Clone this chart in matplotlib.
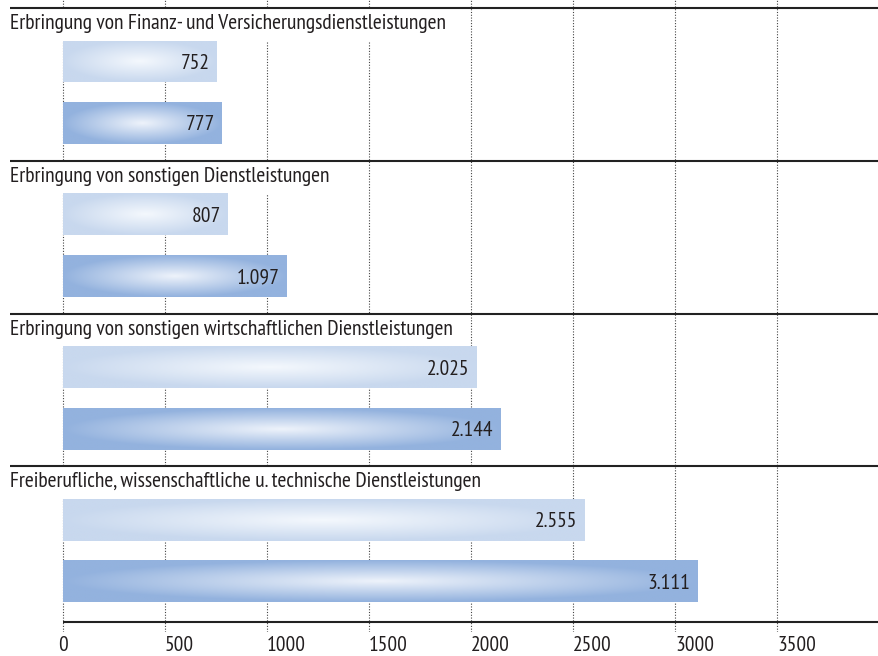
import numpy as np
import matplotlib.pyplot as plt
from matplotlib.patches import Rectangle

# data
categories = [
    "Erbringung von Finanz- und Versicherungsdienstleistungen",
    "Erbringung von sonstigen Dienstleistungen",
    "Erbringung von sonstigen wirtschaftlichen Dienstleistungen",
    "Freiberufliche, wissenschaftliche u. technische Dienstleistungen",
]
values_light = [752, 807, 2025, 2555]
values_dark = [777, 1097, 2144, 3111]
tick_values = [0, 500, 1000, 1500, 2000, 2500, 3000, 3500]

plt.rcParams['font.family'] = ['PT Sans Narrow', 'DejaVu Sans']
plt.rcParams['font.weight'] = 'normal'
TXT = '#231f20'
FS = 15.5

fig = plt.figure(figsize=(8.79, 6.56), dpi=100)
# y axis in pixel-like units: 0 at the top of the figure, 632 at the bottom of the axes
ax = fig.add_axes([10 / 879, 24 / 656, 869 / 879, 632 / 656])

pitch = 152.8
bar_h = 42


def gradient(edge, center, w=300, h=60):
    xx, yy = np.meshgrid(np.linspace(-1, 1, w), np.linspace(-1, 1, h))
    r = np.clip(np.sqrt(xx ** 2 + yy ** 2), 0, 1)
    t = 1 - r
    edge = np.array(edge) / 255
    center = np.array(center) / 255
    return edge + (center - edge) * t[..., None]


grad_light = gradient((200, 216, 238), (244, 248, 253))
grad_dark = gradient((147, 178, 222), (238, 243, 251))

labels = []
for i, cat in enumerate(categories):
    sep = 8 + pitch * i
    ax.hlines(sep, -260, 4000, color='#222222', lw=1.5, zorder=4)
    for val, yc, img in [(values_light[i], sep + 53.5, grad_light),
                         (values_dark[i], sep + 115, grad_dark)]:
        bar = ax.barh(yc, val, height=bar_h, color='none', zorder=3)[0]
        im = ax.imshow(img, extent=(0, val, yc + bar_h / 2, yc - bar_h / 2),
                       aspect='auto', zorder=3, interpolation='bilinear')
        im.set_clip_path(bar)
        ax.annotate(f"{val:,}".replace(",", "."), (val, yc), xytext=(-5, 0),
                    textcoords='offset points', ha='right', va='center_baseline',
                    fontsize=FS, color=TXT, zorder=5)
    t = ax.text(-259, sep + 21, cat, ha='left', va='baseline', fontsize=FS,
                color=TXT, zorder=5)
    labels.append((t, sep))

# bottom axis line
ax.hlines(622, 0, 4000, color='#222222', lw=1.5, zorder=4)

ax.set_xlim(-260, 4000)
ax.set_ylim(632, 0)
ax.set_xticks(tick_values)
ax.set_xticklabels([str(v) for v in tick_values])
for lab in ax.get_xticklabels()[1:]:
    lab.set_ha('left')
ax.tick_params(axis='x', length=0, pad=3, labelsize=FS, labelcolor=TXT)
ax.set_yticks([])
for s in ax.spines.values():
    s.set_visible(False)
ax.grid(axis='x', color='#444444', lw=0.8, linestyle=(0, (1, 1.5)), zorder=1)
ax.set_axisbelow(True)

# white boxes behind the group labels hide the gridlines
fig.canvas.draw()
inv = ax.transData.inverted()
for t, sep in labels:
    bb = t.get_window_extent()
    x1 = inv.transform((bb.x1 + 3, 0))[0]
    ax.add_patch(Rectangle((-260, sep + 1), x1 + 260, 32, facecolor='white',
                           edgecolor='none', zorder=2))

fig.savefig('out.png', dpi=100)
